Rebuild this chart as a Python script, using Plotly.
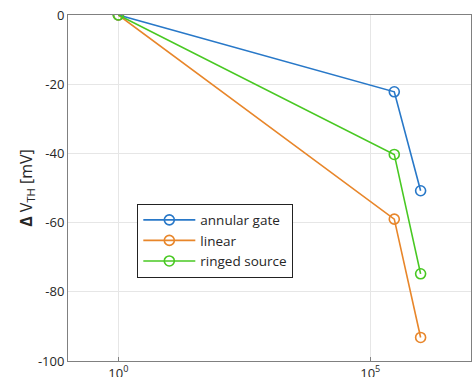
import plotly.graph_objects as go

x_vals = [1, 3e5, 1e6]
annular_gate = [0, -22.2, -50.8]
linear = [0, -59.0, -93.2]
ringed_source = [0, -40.3, -74.8]
series_names = ["annular gate", "linear", "ringed source"]
colors = ["#2878c8", "#e8862a", "#48c822"]
x_tickvals = [1, 1e5]
x_ticktext = ["10<sup>0</sup>", "10<sup>5</sup>"]
y_tickvals = [0, -20, -40, -60, -80, -100]
y_ticktext = ["0", "-20", "-40", "-60", "-80", "-100"]

fig = go.Figure()
for name, ys, c in zip(series_names, [annular_gate, linear, ringed_source], colors):
    fig.add_trace(go.Scatter(
        x=x_vals, y=ys, name=name, mode="lines+markers",
        line=dict(color=c, width=1.6),
        marker=dict(symbol="circle-open", size=10, color=c, line=dict(width=1.6, color=c)),
    ))

fig.update_layout(
    width=472, height=377,
    margin=dict(l=68, r=1, t=15, b=16, autoexpand=False),
    plot_bgcolor="white", paper_bgcolor="white",
    font=dict(family="Open Sans, Arial, sans-serif", size=13, color="#262626"),
    showlegend=True,
    legend=dict(
        x=0.172, y=0.455, xanchor="left", yanchor="top",
        bgcolor="white", bordercolor="#222222", borderwidth=1,
        font=dict(size=13.5, color="#262626"),
        tracegroupgap=0, itemwidth=52,
    ),
)
fig.update_xaxes(
    type="log", range=[-1, 7], automargin=False,
    tickvals=x_tickvals, ticktext=x_ticktext,
    showgrid=True, gridcolor="#e6e6e6", gridwidth=1,
    showline=True, linecolor="#808080", linewidth=1, mirror=True,
    ticks="inside", ticklen=4, tickcolor="#808080",
    zeroline=False, tickfont=dict(size=13),
)
fig.update_yaxes(
    range=[-100, 0], tickvals=y_tickvals, ticktext=y_ticktext, automargin=False,
    showgrid=True, gridcolor="#e6e6e6", gridwidth=1,
    showline=True, linecolor="#808080", linewidth=1, mirror=True,
    ticks="", zeroline=False, tickfont=dict(size=13),
    title=dict(text="<b>Δ</b> V<sub>TH</sub> [mV]", font=dict(size=16), standoff=1),
)
fig.write_html(
    "out.html",
    config={"displayModeBar": False},
    post_script="document.body.style.margin='0';document.body.style.overflow='hidden';",
)
